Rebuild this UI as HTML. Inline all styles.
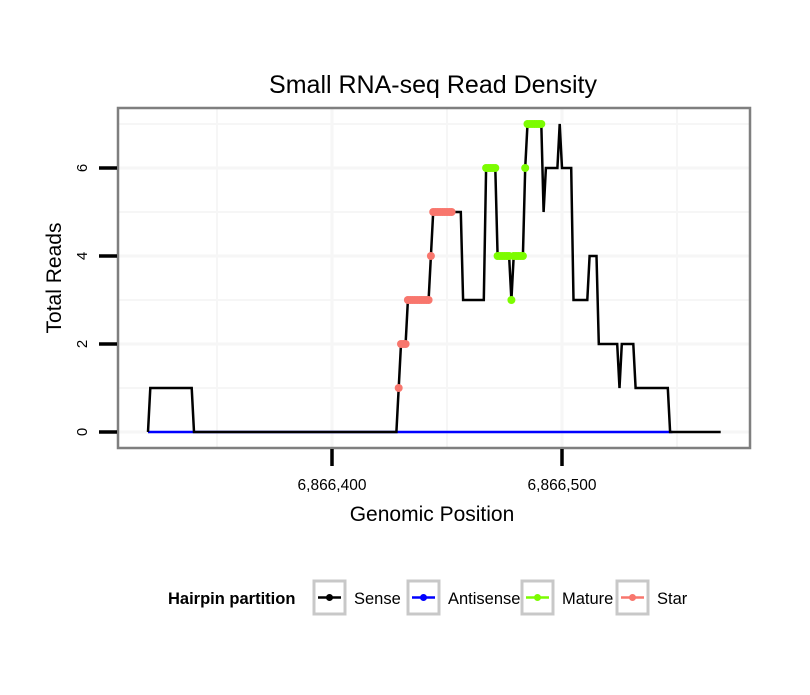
<!DOCTYPE html>
<html><head><meta charset="utf-8"><style>
body{margin:0;background:#fff;}
svg text{font-family:"Liberation Sans",Arial,sans-serif;}
</style></head><body>
<svg id="chart" width="810" height="690" viewBox="0 0 810 690">
<rect width="810" height="690" fill="#fff"/>
<text x="433" y="93" font-size="25" text-anchor="middle">Small RNA-seq Read Density</text>
<g id="plot"></g>
<text x="432" y="521" font-size="21" text-anchor="middle">Genomic Position</text>
<text transform="translate(61,278) rotate(-90)" font-size="21" text-anchor="middle">Total Reads</text>
<g id="legend">
<text x="168" y="604" font-size="16.5" font-weight="bold">Hairpin partition</text>
</g>
</svg>
<script>
const BASE = 6866400;
// sense coverage, run-length: start offset (relative to 6,866,400) and value
const senseRunStart = [-80,-79,-60,29,30,33,43,44,57,67,72,78,79,84,85,92,93,99,100,105,112,116,125,126,132,147];
const senseRunValue = [0,1,0,1,2,3,4,5,3,6,4,3,4,6,7,5,6,7,6,3,4,2,1,2,1,0];
const senseEnd = 169;
const antisenseStart = -80;
const antisenseEnd = 148;
const starStart = 29, starEnd = 52;
const matureStart = 67, matureEnd = 91;
const xTickValues = [6866400, 6866500];
const xTickLabels = ["6,866,400", "6,866,500"];
const yTickValues = [0, 2, 4, 6];

const L=118, R=750, T=108, B=448;
const xScale = p => 332 + (p - BASE) * 2.3;
const yScale = v => 432 - v * 44;
const NS = "http://www.w3.org/2000/svg";
const plot = document.getElementById('plot');
function mk(tag, attrs, parent){const e=document.createElementNS(NS,tag);for(const k in attrs)e.setAttribute(k,attrs[k]);(parent||plot).appendChild(e);return e;}

const sensePos=[], senseVal=[];
for(let i=0;i<senseRunStart.length;i++){
  const end = i+1<senseRunStart.length ? senseRunStart[i+1]-1 : senseEnd;
  for(let p=senseRunStart[i];p<=end;p++){sensePos.push(p);senseVal.push(senseRunValue[i]);}
}
const valAt = p => senseVal[sensePos.indexOf(p)];

let bg = mk('rect',{x:L,y:T,width:R-L,height:B-T,fill:'#fff'});


[1,3,5,7].forEach(v=>{const g=mk('line',{x1:L,x2:R,y1:yScale(v),y2:yScale(v),stroke:'#f6f6f6','stroke-width':2});

});
yTickValues.forEach(v=>{const g=mk('line',{x1:L,x2:R,y1:yScale(v),y2:yScale(v),stroke:'#f6f6f6','stroke-width':3});

});
[6866350,6866450,6866550].forEach(p=>{const g=mk('line',{x1:xScale(p),x2:xScale(p),y1:T,y2:B,stroke:'#f6f6f6','stroke-width':2});

});
xTickValues.forEach(p=>{const g=mk('line',{x1:xScale(p),x2:xScale(p),y1:T,y2:B,stroke:'#f6f6f6','stroke-width':3});

});

let an = mk('line',{x1:xScale(BASE+antisenseStart),x2:xScale(BASE+antisenseEnd),y1:yScale(0),y2:yScale(0),stroke:'#0000ff','stroke-width':2.5});


let pts = sensePos.map((p,i)=>xScale(BASE+p)+','+yScale(senseVal[i])).join(' ');
let sl = mk('polyline',{points:pts,fill:'none',stroke:'#000','stroke-width':2.5,'stroke-linejoin':'miter'});


for(let p=starStart;p<=starEnd;p++){
  const c=mk('circle',{cx:xScale(BASE+p),cy:yScale(valAt(p)),r:4,fill:'#f8766d'});
  
  
}
for(let p=matureStart;p<=matureEnd;p++){
  const c=mk('circle',{cx:xScale(BASE+p),cy:yScale(valAt(p)),r:4,fill:'#7cfc00'});
  
  
}
let bd = mk('rect',{x:L,y:T,width:R-L,height:B-T,fill:'none',stroke:'#7f7f7f','stroke-width':2.5});


yTickValues.forEach(v=>{
  const t=mk('line',{x1:99,x2:117,y1:yScale(v),y2:yScale(v),stroke:'#000','stroke-width':3.5});
  
  
  const tx=mk('text',{transform:`translate(87,${yScale(v)}) rotate(-90)`,'font-size':15,'text-anchor':'middle'});
  tx.textContent=v;
  
  
});
xTickValues.forEach((p,i)=>{
  const t=mk('line',{x1:xScale(p),x2:xScale(p),y1:449,y2:466,stroke:'#000','stroke-width':3.5});
  
  
  const tx=mk('text',{x:xScale(p),y:490,'font-size':15.5,'text-anchor':'middle'});
  tx.textContent=xTickLabels[i];
  
  
});
const legend=document.getElementById('legend');
const legNames=["Sense","Antisense","Mature","Star"];
const legColors=["#000","#0000ff","#7cfc00","#f8766d"];
const legBoxX=[314,408,522,617];
legNames.forEach((n,i)=>{
  const x=legBoxX[i];
  const b=mk('rect',{x:x,y:581,width:31,height:33,fill:'#fff',stroke:'#c8c8c8','stroke-width':3},legend);
  
  
  mk('line',{x1:x+4,x2:x+27,y1:597.5,y2:597.5,stroke:legColors[i],'stroke-width':2.5},legend);
  mk('circle',{cx:x+15.5,cy:597.5,r:3.5,fill:legColors[i]},legend);
  const t=mk('text',{x:x+40,y:604,'font-size':16.5},legend);
  t.textContent=n;
  
  
});
</script>
</body></html>
